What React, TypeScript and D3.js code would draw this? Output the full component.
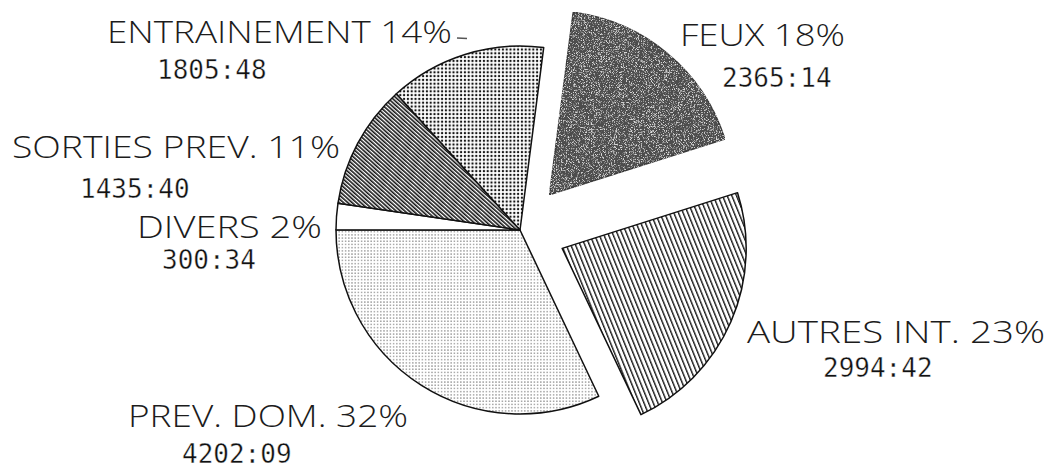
import React from "react";
import * as d3 from "d3";

// ---- data ----
const categories = ["FEUX", "AUTRES INT.", "PREV. DOM.", "DIVERS", "SORTIES PREV.", "ENTRAINEMENT"];
const percents = [18, 23, 32, 2, 11, 14];
const durations = ["2365:14", "2994:42", "4202:09", "300:34", "1435:40", "1805:48"];
const exploded = [true, true, false, false, false, false];

// ---- styling / layout (kept apart from the data) ----
const fills = ["#4e4e4e", "url(#vstripe)", "url(#finedots)", "#ffffff", "url(#dstripe)", "url(#bigdots)"];
const labelLayout = [
  { x: 680, y: 46, w: 165, nx: 722, ny: 87 },
  { x: 747, y: 343, w: 298, nx: 823, ny: 377 },
  { x: 128, y: 427, w: 280, nx: 182, ny: 463 },
  { x: 137, y: 238, w: 185, nx: 162, ny: 269 },
  { x: 12, y: 158, w: 328, nx: 80, ny: 198 },
  { x: 107, y: 43, w: 345, nx: 157, ny: 79 },
];

const W = 1050;
const H = 471;
const CX = 520;
const CY = 230;
const R = 184;
const EXPLODE = 46;
const START = (7.4 * Math.PI) / 180;

function toHours(s: string): number {
  const [h, m] = s.split(":").map(Number);
  return h + m / 60;
}

export default function App() {
  const values = durations.map(toHours);
  const pie = d3
    .pie<number>()
    .sort(null)
    .startAngle(START)
    .endAngle(START + 2 * Math.PI);
  const arcs = pie(values);
  const arcGen = d3.arc<d3.PieArcDatum<number>>().innerRadius(0).outerRadius(R);

  return (
    <svg
      width={W}
      height={H}
      viewBox={`0 0 ${W} ${H}`}
      style={{ position: "absolute", left: 0, top: 0, background: "#fff" }}
    >
      <defs>
        <pattern id="bigdots" width={3.8} height={3.8} patternUnits="userSpaceOnUse">
          <rect width={3.8} height={3.8} fill="#fff" />
          <circle cx={1.9} cy={1.9} r={1.2} fill="#151515" />
        </pattern>
        <pattern id="finedots" width={3.2} height={3.2} patternUnits="userSpaceOnUse">
          <rect width={3.2} height={3.2} fill="#fff" />
          <circle cx={1.6} cy={1.6} r={0.68} fill="#5e5e5e" />
        </pattern>
        <pattern
          id="vstripe"
          width={4.3}
          height={10}
          patternUnits="userSpaceOnUse"
          patternTransform="rotate(-22)"
        >
          <rect width={4.3} height={10} fill="#fff" />
          <rect x={0} y={0} width={1.4} height={10} fill="#1a1a1a" />
        </pattern>
        <pattern
          id="dstripe"
          width={2.9}
          height={10}
          patternUnits="userSpaceOnUse"
          patternTransform="rotate(-48)"
        >
          <rect width={2.9} height={10} fill="#fff" />
          <rect x={0} y={0} width={1.6} height={10} fill="#151515" />
        </pattern>
        <filter id="grain" x="0" y="0" width="1" height="1">
          <feTurbulence type="fractalNoise" baseFrequency="1.4" numOctaves="1" seed="4" result="t" />
          <feColorMatrix
            in="t"
            type="matrix"
            values="0 0 0 0 0.72  0 0 0 0 0.72  0 0 0 0 0.72  5 0 0 0 -2.6"
            result="specks"
          />
          <feComposite in="specks" in2="SourceAlpha" operator="in" result="clipped" />
          <feMerge>
            <feMergeNode in="SourceGraphic" />
            <feMergeNode in="clipped" />
          </feMerge>
        </filter>
      </defs>

      <g transform={`translate(${CX},${CY})`}>
        {arcs.map((a, i) => {
          const mid = (a.startAngle + a.endAngle) / 2;
          const dx = exploded[i] ? Math.sin(mid) * EXPLODE : 0;
          const dy = exploded[i] ? -Math.cos(mid) * EXPLODE : 0;
          return (
            <path
              key={categories[i]}
              d={arcGen(a) || ""}
              transform={`translate(${dx},${dy})`}
              fill={fills[i]}
              stroke={i === 0 ? "#3a3a3a" : "#111"}
              strokeWidth={1.5}
              strokeLinejoin="round"
              filter={i === 0 ? "url(#grain)" : undefined}
            />
          );
        })}
      </g>

      {categories.map((c, i) => {
        const L = labelLayout[i];
        return (
          <g key={c}>
            <text
              x={L.x}
              y={L.y}
              textLength={L.w}
              lengthAdjust="spacingAndGlyphs"
              fontFamily="'Open Sans', 'Liberation Sans', sans-serif"
              fontWeight={300}
              fontSize={31}
              fill="#1c1c1c"
            >
              {`${c} ${percents[i]}%`}
            </text>
            <text
              x={L.nx}
              y={L.ny}
              fontFamily="'DejaVu Sans Mono', monospace"
              fontSize={26}
              fill="#111"
              stroke="#fff"
              strokeWidth={0.35}
            >
              {durations[i]}
            </text>
          </g>
        );
      })}
      <line x1={457} y1={38} x2={467} y2={38.5} stroke="#555" strokeWidth={1.5} />
    </svg>
  );
}
